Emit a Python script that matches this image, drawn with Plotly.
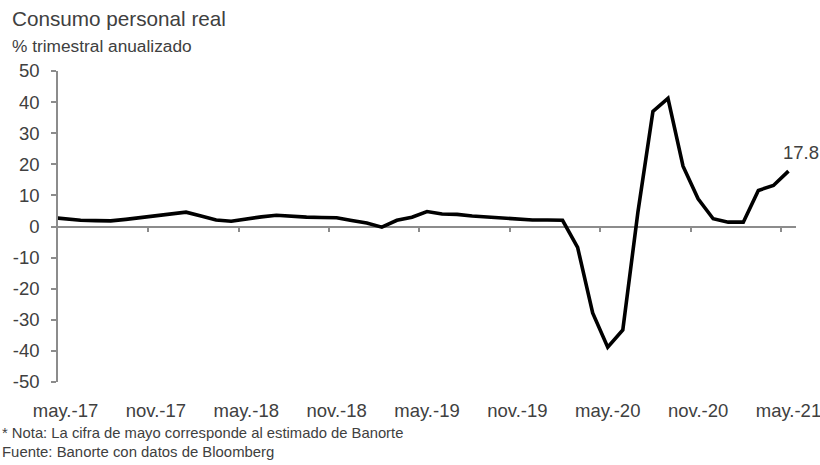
import plotly.graph_objects as go
import pandas as pd

# ---------------- data ----------------
start_month = "2017-04"
values = [2.9, 2.5, 2.0, 1.9, 1.8, 2.3, 2.9, 3.5, 4.1,          # abr-17 .. dic-17
          4.6, 3.4, 2.1, 1.7, 2.5, 3.1, 3.6, 3.2, 3.0, 2.9, 2.8, 1.9,  # 2018
          1.1, -0.2, 2.0, 3.0, 4.8, 4.0, 3.9, 3.4, 3.1, 2.7, 2.3, 2.1,  # 2019
          2.1, 2.0, -6.7, -27.8, -38.8, -33.3, 4.5, 37.0, 41.2, 19.4, 8.9, 2.5,  # 2020
          1.4, 1.4, 11.6, 13.2, 17.8]                          # 2021
month_dates = pd.period_range(start=start_month, periods=len(values), freq="M")

x_label_months = ["2017-05", "2017-11", "2018-05", "2018-11", "2019-05",
                  "2019-11", "2020-05", "2020-11", "2021-05"]
x_tick_labels = ["may.-17", "nov.-17", "may.-18", "nov.-18", "may.-19",
                 "nov.-19", "may.-20", "nov.-20", "may.-21"]
y_tick_vals = [50, 40, 30, 20, 10, 0, -10, -20, -30, -40, -50]
y_tick_labels = ["50", "40", "30", "20", "10", "0", "-10", "-20", "-30", "-40", "-50"]

title_text = "Consumo personal real"
subtitle_text = "% trimestral anualizado"
note_text = "* Nota: La cifra de mayo corresponde al estimado de Banorte"
source_text = "Fuente: Banorte con datos de Bloomberg"
last_label = "17.8"

# ---------------- helpers ----------------
origin = pd.Period("2017-05", freq="M")
def month_pos(p):
    # months since May-17; points sit in the middle of their month
    return (p - origin).n

x_vals = [month_pos(p) + 0.5 for p in month_dates]
x_label_pos = [month_pos(pd.Period(m, freq="M")) + 0.5 for m in x_label_months]
x_tick_bounds = [month_pos(pd.Period(m, freq="M")) for m in x_label_months[1:]]
n_months = month_pos(pd.Period("2021-05", freq="M")) + 1

W, H = 820, 465
ml, mr, mt, mb = 58, 24, 71, 83
pw, ph = W - ml - mr, H - mt - mb
def fx(px):
    return (px - ml) / pw
def fy(py):
    return (H - mb - py) / ph

FONT = "Liberation Sans Narrow, Arial Narrow, Liberation Sans, Arial, sans-serif"
TXT = "#404040"
AX = "#8c8c8c"
TICK_SIZE = 18.5

fig = go.Figure()
# zero-line axis carrier (same series, invisible) so the crossing axis is drawn
fig.add_trace(go.Scatter(
    x=x_vals, y=values, mode="lines", xaxis="x2", yaxis="y",
    line=dict(color="rgba(0,0,0,0)", width=0),
    hoverinfo="skip", showlegend=False,
))
fig.add_trace(go.Scatter(
    x=x_vals, y=values, mode="lines",
    line=dict(color="#000000", width=3.6),
    hoverinfo="skip", showlegend=False,
))

fig.update_layout(
    width=W, height=H,
    margin=dict(l=ml, r=mr, t=mt, b=mb, autoexpand=False),
    paper_bgcolor="white", plot_bgcolor="white",
    font=dict(family=FONT, color=TXT, size=18),
    showlegend=False,
    xaxis=dict(
        range=[0, n_months], showgrid=False, zeroline=False, showline=False,
        tickmode="array", tickvals=x_label_pos, ticktext=x_tick_labels,
        ticks="", tickfont=dict(size=TICK_SIZE, color=TXT), ticklabelstandoff=15,
        ticklabeloverflow="allow", automargin=False,
    ),
    xaxis2=dict(
        overlaying="x", matches="x", anchor="free", position=0.5,
        range=[0, n_months], showgrid=False, zeroline=False,
        showline=True, linecolor=AX, linewidth=1.5,
        tickmode="array", tickvals=x_tick_bounds, showticklabels=False,
        ticks="outside", ticklen=5, tickwidth=1.5, tickcolor=AX,
        layer="below traces", automargin=False,
    ),
    yaxis=dict(
        range=[-50, 50], showgrid=False, zeroline=False,
        showline=True, linecolor=AX, linewidth=1.5,
        tickmode="array", tickvals=y_tick_vals, ticktext=y_tick_labels,
        ticks="outside", ticklen=5, tickwidth=1.5, tickcolor=AX,
        tickfont=dict(size=TICK_SIZE, color=TXT), ticklabelstandoff=8,
        layer="below traces", automargin=False,
    ),
)

annotations = [
    dict(text=title_text, x=fx(10), y=fy(19), font=dict(size=20.7, color=TXT)),
    dict(text=subtitle_text, x=fx(10), y=fy(46), font=dict(size=17.3, color=TXT)),
    dict(text=note_text, x=fx(0), y=fy(433), font=dict(size=14.8, color=TXT)),
    dict(text=source_text, x=fx(0), y=fy(452), font=dict(size=14.9, color=TXT)),
]
for a in annotations:
    fig.add_annotation(xref="paper", yref="paper", xanchor="left", yanchor="middle",
                       showarrow=False, **a)

fig.add_annotation(x=x_vals[-1], y=values[-1], xref="x", yref="y",
                   text=last_label, showarrow=False, xanchor="left", yanchor="middle",
                   xshift=-7, yshift=19, font=dict(size=TICK_SIZE, color=TXT))

fig.write_html("out.html")
